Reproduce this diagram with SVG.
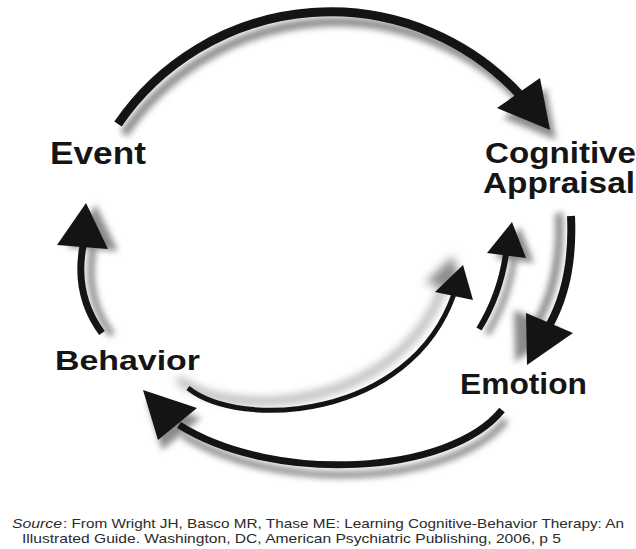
<svg xmlns="http://www.w3.org/2000/svg" xmlns:xlink="http://www.w3.org/1999/xlink" width="636" height="549" viewBox="0 0 636 549">
  <style>
    .label { font-family: "Liberation Sans", Arial, sans-serif; font-weight: bold; fill: #151515; }
    .cite { font-family: "Liberation Sans", Arial, sans-serif; font-size: 13.5px; fill: #2a2a2a; }
    .em { font-style: italic; }
    .arrow { color: #141414; }
    .shadow { color: #8c8c8c; }
  </style>
  <defs>
    <filter id="soft3" x="-30%" y="-30%" width="160%" height="160%">
      <feGaussianBlur stdDeviation="3"/>
    </filter>
    <filter id="soft5" x="-30%" y="-30%" width="160%" height="160%">
      <feGaussianBlur stdDeviation="5"/>
    </filter>

    <!-- Event -> Cognitive Appraisal -->
    <g id="a-event-cog">
      <path d="M118,124 A257.5,257.5 0 0 1 520,95" fill="none" stroke="currentColor" stroke-width="9"/>
      <polygon points="550,130 497,108 540,78" fill="currentColor"/>
    </g>
    <!-- Behavior -> Event -->
    <g id="a-beh-event">
      <path d="M102,333 Q74,295 83,246" fill="none" stroke="currentColor" stroke-width="7"/>
      <polygon points="86,203 57,245 108,249" fill="currentColor"/>
    </g>
    <!-- Behavior -> Cognitive Appraisal (inner arc) -->
    <g id="a-beh-cog">
      <path d="M188,388 C240,430 410,420 454,294" fill="none" stroke="currentColor" stroke-width="5"/>
      <polygon points="463,265 435,292 473,300" fill="currentColor"/>
    </g>
    <!-- Emotion -> Cognitive Appraisal -->
    <g id="a-emo-cog">
      <path d="M479,329 Q500,295 506,254" fill="none" stroke="currentColor" stroke-width="6"/>
      <polygon points="512,222 487,253 526,258" fill="currentColor"/>
    </g>
    <!-- Cognitive Appraisal -> Emotion -->
    <g id="a-cog-emo">
      <path d="M571,216 Q574,280 550,324" fill="none" stroke="currentColor" stroke-width="8"/>
      <polygon points="527,365 526,313 573,333" fill="currentColor"/>
    </g>
    <!-- Emotion -> Behavior -->
    <g id="a-emo-beh">
      <path d="M502,410 C450,475 275,485 179,425" fill="none" stroke="currentColor" stroke-width="7"/>
      <polygon points="143,390 158,440 197,408" fill="currentColor"/>
    </g>
  </defs>

  <rect width="636" height="549" fill="#ffffff"/>

  <!-- connectors: soft drop shadows first, then the solid arrows -->
  <g id="connectors">
    <g id="shadows">
      <use xlink:href="#a-event-cog" class="shadow" transform="translate(6,10)" filter="url(#soft3)"/>
      <use xlink:href="#a-beh-event" class="shadow" transform="translate(10,2)" filter="url(#soft3)"/>
      <use xlink:href="#a-beh-cog" class="shadow" transform="translate(-10,-9)" filter="url(#soft5)"/>
      <use xlink:href="#a-emo-cog" class="shadow" transform="translate(8,5)" filter="url(#soft3)"/>
      <use xlink:href="#a-cog-emo" class="shadow" transform="translate(-12,-3)" filter="url(#soft3)"/>
      <use xlink:href="#a-emo-beh" class="shadow" transform="translate(4,10)" filter="url(#soft3)"/>
    </g>
    <use xlink:href="#a-event-cog" class="arrow"/>
    <use xlink:href="#a-beh-event" class="arrow"/>
    <use xlink:href="#a-beh-cog" class="arrow"/>
    <use xlink:href="#a-emo-cog" class="arrow"/>
    <use xlink:href="#a-cog-emo" class="arrow"/>
    <use xlink:href="#a-emo-beh" class="arrow"/>
  </g>

  <g id="event">
    <text class="label" x="50" y="164" font-size="31" textLength="96" lengthAdjust="spacingAndGlyphs">Event</text>
  </g>
  <g id="cognitive-appraisal">
    <text class="label" x="485" y="163" font-size="29" textLength="151" lengthAdjust="spacingAndGlyphs">Cognitive</text>
    <text class="label" x="483" y="193" font-size="29" textLength="152" lengthAdjust="spacingAndGlyphs">Appraisal</text>
  </g>
  <g id="behavior">
    <text class="label" x="55" y="370" font-size="28" textLength="145" lengthAdjust="spacingAndGlyphs">Behavior</text>
  </g>
  <g id="emotion">
    <text class="label" x="460" y="394" font-size="29" textLength="127" lengthAdjust="spacingAndGlyphs">Emotion</text>
  </g>

  <g id="citation">
    <text class="cite em" x="12" y="528" textLength="50" lengthAdjust="spacingAndGlyphs">Source</text>
    <text class="cite" x="63" y="528" textLength="561" lengthAdjust="spacingAndGlyphs">: From Wright JH, Basco MR, Thase ME: Learning Cognitive-Behavior Therapy: An</text>
    <text class="cite" x="22" y="543" textLength="539" lengthAdjust="spacingAndGlyphs">Illustrated Guide. Washington, DC, American Psychiatric Publishing, 2006, p 5</text>
  </g>
</svg>
